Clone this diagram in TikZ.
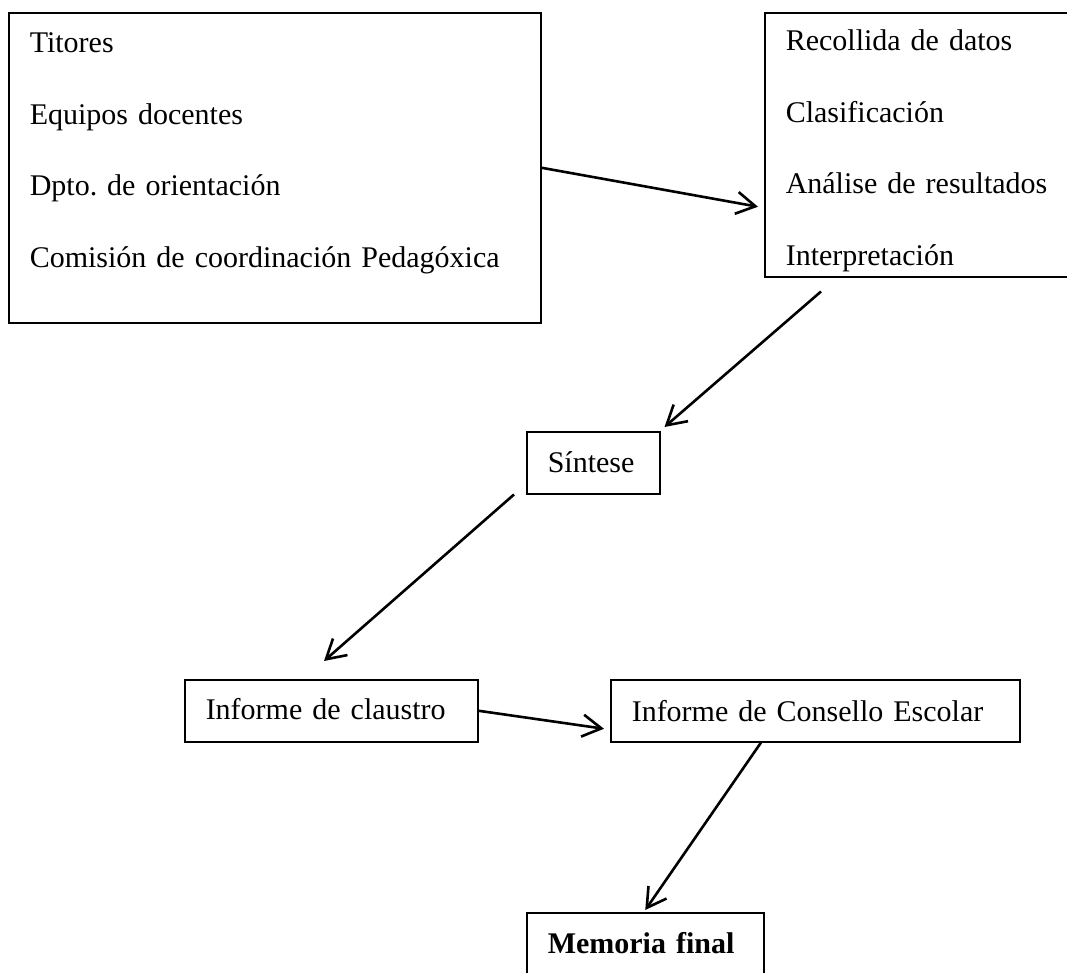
\documentclass[tikz,border=0pt]{standalone}
\usepackage{fontspec}
\setmainfont{Liberation Serif}
\usetikzlibrary{arrows.meta}
\frenchspacing
\begin{document}
\begin{tikzpicture}[x=1pt, y=-1pt,
    caixa/.style={draw, line width=1.5pt, anchor=north west, inner xsep=21pt,
      inner ysep=0pt, align=left, font=\fontsize{30}{71.5}\selectfont},
    frecha/.style={line width=2.6pt, -{Straight Barb[length=19pt,width=22pt]}}]
  \clip (0, 0) rectangle (1067, 972);
  % caixas
  \node[caixa, text width=490pt, text height=40pt, text depth=270pt]
    (axentes) at (8, 12)
    {Titores\\Equipos docentes\\Dpto. de orientación\\Comisión de coordinación Pedagóxica};
  \node[caixa, text width=290pt, text height=38pt, text depth=226pt]
    (recollida) at (764, 12)
    {Recollida de datos\\Clasificación\\Análise de resultados\\Interpretación};
  \node[caixa, text width=91pt, text height=41pt, text depth=21pt]
    (sintese) at (526, 431) {Síntese};
  \node[caixa, text width=251pt, text height=40pt, text depth=22pt]
    (claustro) at (184, 679) {Informe de claustro};
  \node[caixa, text width=367pt, text height=42pt, text depth=20pt]
    (consello) at (610, 679) {Informe de Consello Escolar};
  \node[caixa, text width=195pt, text height=41pt, text depth=50pt]
    (memoria) at (526, 912) {\bfseries Memoria final};
  % frechas
  \draw[frecha] (axentes.east) -- ([shift={(-6,62)}]recollida.west);
  \draw[frecha] ([shift={(57,14)}]recollida.south west)
    -- ([shift={(4,-4)}]sintese.north east);
  \draw[frecha] ([shift={(-12,0)}]sintese.south west)
    -- ([shift={(140,-18)}]claustro.north west);
  \draw[frecha] (claustro.east) -- ([shift={(-6,18)}]consello.west);
  \draw[frecha] ([shift={(151,0)}]consello.south west)
    -- ([shift={(0,-2)}]memoria.north);
\end{tikzpicture}
\end{document}
